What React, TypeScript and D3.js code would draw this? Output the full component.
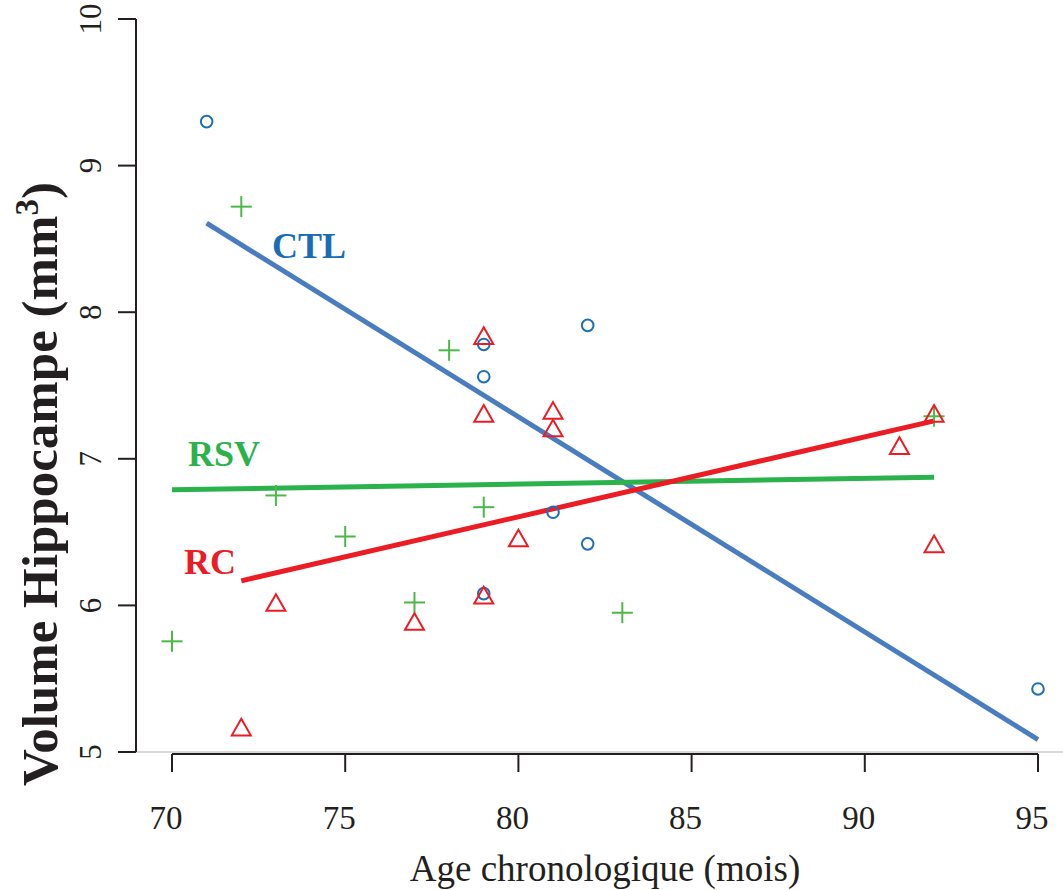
import React from "react";
import * as d3 from "d3";

const ctlAge = [71, 79, 79, 82, 81, 82, 79, 95];
const ctlVol = [9.3, 7.78, 7.56, 7.91, 6.635, 6.42, 6.08, 5.43];
const rsvAge = [70, 72, 73, 75, 77, 78, 79, 83, 92];
const rsvVol = [5.755, 8.72, 6.75, 6.47, 6.02, 7.74, 6.67, 5.95, 7.29];
const rcAge = [72, 73, 77, 79, 79, 79, 80, 81, 81, 91, 92, 92];
const rcVol = [5.17, 6.02, 5.89, 7.84, 7.31, 6.07, 6.46, 7.33, 7.21, 7.09, 6.42, 7.31];

const xTicks = [70, 75, 80, 85, 90, 95];
const yTicks = [5, 6, 7, 8, 9, 10];

const W = 1063;
const H = 890;

function fit(xs: number[], ys: number[]) {
  const mx = d3.mean(xs)!;
  const my = d3.mean(ys)!;
  let sxy = 0, sxx = 0;
  xs.forEach((x, i) => {
    sxy += (x - mx) * (ys[i] - my);
    sxx += (x - mx) * (x - mx);
  });
  const b = sxy / sxx;
  const a = my - b * mx;
  const [x0, x1] = d3.extent(xs) as [number, number];
  return [
    [x0, a + b * x0],
    [x1, a + b * x1],
  ] as [number, number][];
}

export default function App() {
  const x = d3.scaleLinear().domain([70, 95]).range([172, 1038]);
  const y = d3.scaleLinear().domain([5, 10]).range([752, 19]);
  const line = d3
    .line<[number, number]>()
    .x((d) => x(d[0]))
    .y((d) => y(d[1]));

  const blueLine = "#4a7cc0";
  const bluePt = "#1f6eb6";
  const green = "#2bb24c";
  const greenPt = "#4cb848";
  const red = "#ec1c24";
  const axis = "#231f20";
  const font = "'Liberation Serif', 'Times New Roman', serif";

  const tri = (cx: number, cy: number) =>
    `M${cx},${cy - 8.3}L${cx + 9.5},${cy + 8.3}L${cx - 9.5},${cy + 8.3}Z`;

  return (
    <svg
      width={W}
      height={H}
      style={{ position: "absolute", left: 0, top: 0, background: "#fff" }}
      fontFamily={font}
    >
      <rect width={W} height={H} fill="#fff" />
      {/* faint baseline */}
      <line x1={136} x2={W} y1={752} y2={752} stroke="#d8d8d8" strokeWidth={2} />
      {/* y axis */}
      <line x1={136} x2={136} y1={y(10)} y2={y(5)} stroke={axis} strokeWidth={2} />
      {yTicks.map((t) => (
        <g key={"y" + t}>
          <line x1={118} x2={136} y1={y(t)} y2={y(t)} stroke={axis} strokeWidth={2} />
          <text
            transform={`translate(101,${y(t)}) rotate(-90)`}
            textAnchor="middle"
            fontSize={31}
            fill={axis}
          >
            {t}
          </text>
        </g>
      ))}
      {/* x axis */}
      <line x1={x(70)} x2={x(95)} y1={754} y2={754} stroke={axis} strokeWidth={2} />
      {xTicks.map((t) => (
        <g key={"x" + t}>
          <line x1={x(t)} x2={x(t)} y1={754} y2={772} stroke={axis} strokeWidth={2} />
          <text x={x(t) - 6} y={829} textAnchor="middle" fontSize={33} fill={axis}>
            {t}
          </text>
        </g>
      ))}
      <text x={605} y={881} textAnchor="middle" fontSize={37} fill={axis}>
        Age chronologique (mois)
      </text>
      <text
        transform="translate(57,484) rotate(-90)"
        textAnchor="middle"
        fontSize={51}
        fontWeight="bold"
        fill={axis}
      >
        Volume Hippocampe (mm
        <tspan fontSize={33} dy={-19}>3</tspan>
        <tspan dy={19}>)</tspan>
      </text>

      {/* regression lines */}
      <path d={line(fit(ctlAge, ctlVol))!} stroke={blueLine} strokeWidth={5} fill="none" />
      <path d={line(fit(rsvAge, rsvVol))!} stroke={green} strokeWidth={5} fill="none" />
      <path d={line(fit(rcAge, rcVol))!} stroke={red} strokeWidth={5} fill="none" />

      {/* points */}
      {ctlAge.map((a, i) => (
        <circle
          key={"c" + i}
          cx={x(a)}
          cy={y(ctlVol[i])}
          r={5.8}
          fill="none"
          stroke={bluePt}
          strokeWidth={2}
        />
      ))}
      {rsvAge.map((a, i) => (
        <g key={"p" + i} stroke={greenPt} strokeWidth={2}>
          <line x1={x(a) - 10.5} x2={x(a) + 10.5} y1={y(rsvVol[i])} y2={y(rsvVol[i])} />
          <line x1={x(a)} x2={x(a)} y1={y(rsvVol[i]) - 10.5} y2={y(rsvVol[i]) + 10.5} />
        </g>
      ))}
      {rcAge.map((a, i) => (
        <path
          key={"t" + i}
          d={tri(x(a), y(rcVol[i]))}
          fill="none"
          stroke={red}
          strokeWidth={2}
        />
      ))}

      {/* group labels */}
      <text x={272} y={258} fontSize={36} fontWeight="bold" fill="#1a6db5">CTL</text>
      <text x={188} y={466} fontSize={36} fontWeight="bold" fill={green}>RSV</text>
      <text x={184} y={574} fontSize={36} fontWeight="bold" fill={red}>RC</text>
    </svg>
  );
}
